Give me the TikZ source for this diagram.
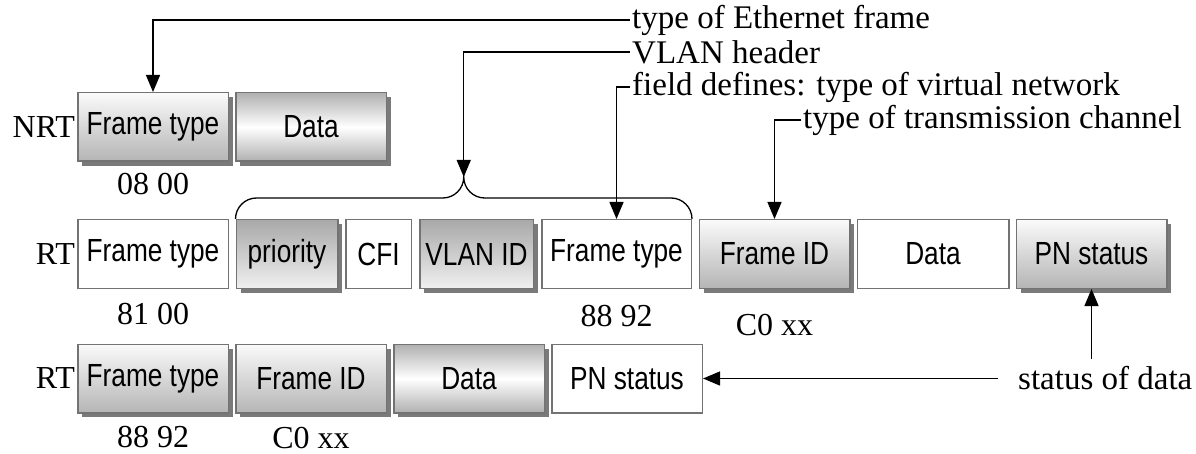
\documentclass[tikz,border=0pt]{standalone}
\usepackage{fontspec}
\setmainfont{Liberation Serif}
\newfontfamily\boxfont[FakeStretch=0.82]{Liberation Sans}
\usetikzlibrary{arrows.meta, calc, positioning, shadows}

\tikzset{
  field/.style={rectangle, draw=black!55, line width=1.5pt, minimum width=150.5pt, minimum height=68.5pt, inner sep=0pt, font=\boxfont\fontsize{32}{38}\selectfont},
  whitebox/.style={field, fill=white},
  boxshadow/.style={general shadow={shadow xshift=4.5pt, shadow yshift=-4.5pt, fill=black!52}},
  lighttop/.style={field, boxshadow, top color=gray!4, bottom color=gray!58},
  darktop/.style={field, boxshadow, top color=gray!68, bottom color=gray!12},
  band/.style={field, boxshadow, top color=gray!62, bottom color=gray!62, middle color=white},
  lbl/.style={font=\fontsize{32}{36}\selectfont, inner sep=0pt},
  note/.style={font=\fontsize{33}{38}\selectfont, inner sep=2pt, anchor=west},
  conn/.style={line width=1.3pt},
}

\begin{document}
\begin{tikzpicture}[x=1pt, y=1pt, >={Triangle[length=17pt, width=14pt]}]
\useasboundingbox (0,0) rectangle (1196,-454);

% NRT frame
\node[lighttop] (nrtft) at (153,-127) {Frame type};
\node[band, right=6pt of nrtft] (nrtdata) {Data};
\node[lbl, left=2pt of nrtft] (nrt) {NRT};
\node[lbl, below=11pt of nrtft] {08 00};

% RT frame with VLAN tag
\node[whitebox] (rtft) at (153,-254) {Frame type};
\node[darktop, right=6.5pt of rtft, minimum width=101.5pt] (prio) {priority};
\node[whitebox, right=6.5pt of prio, minimum width=65.5pt] (cfi) {CFI};
\node[darktop, right=7pt of cfi, minimum width=113.5pt] (vlanid) {VLAN ID};
\node[whitebox, right=7pt of vlanid, minimum width=149.5pt] (vlft) {Frame type};
\node[lighttop, right=6.5pt of vlft] (fid) {Frame ID};
\node[whitebox, right=6pt of fid, minimum width=151.5pt] (rtdata) {Data};
\node[lighttop, right=6pt of rtdata] (pn) {PN status};
\node[lbl, left=2pt of rtft] (rt) {RT};
\node[lbl, below=14pt of rtft] {81 00};
\node[lbl, below=16pt of vlft] {88 92};
\node[lbl, below=25pt of fid] {C0 xx};

% RT frame without VLAN tag
\node[lighttop] (rt2ft) at (153,-378.5) {Frame type};
\node[lighttop, right=6pt of rt2ft] (rt2fid) {Frame ID};
\node[band, right=6pt of rt2fid] (rt2data) {Data};
\node[whitebox, right=6pt of rt2data] (rt2pn) {PN status};
\node[lbl, left=2pt of rt2ft] (rt2) {RT};
\node[lbl, below=13pt of rt2ft] {88 92};
\node[lbl, below=14pt of rt2fid] {C0 xx};

% VLAN header brace
\coordinate (bracetip) at ($(prio.north west)!0.5!(vlft.north east)+(0,42)$);
\draw[conn] (prio.north west) arc[start angle=180, end angle=90, radius=21pt]
  -- ([xshift=-21pt, yshift=-21pt]bracetip) arc[start angle=270, end angle=360, radius=21pt]
  arc[start angle=180, end angle=270, radius=21pt]
  -- ([xshift=-21pt, yshift=21pt]vlft.north east) arc[start angle=90, end angle=0, radius=21pt];

% annotations
\node[note] (ethnote) at (630,-20) {type of Ethernet frame};
\node[note] (vlannote) at (630,-52) {VLAN header};
\node[note] (fieldnote) at (630,-87) {field defines: type of virtual network};
\node[note] (channote) at (801,-120) {type of transmission channel};
\node[note] (statnote) at (1016,-378.5) {status of data};

\draw[conn, ->] (ethnote.west) -| (nrtft.north);
\draw[conn, ->] (vlannote.west) -| (bracetip);
\draw[conn, ->] (fieldnote.west) -| (vlft.north);
\draw[conn, ->] (channote.west) -| (fid.north);
\draw[conn, ->] ([yshift=6pt]pn.south |- statnote.north) -- (pn.south);
\draw[conn, ->] ([xshift=-18pt]statnote.west) -- (rt2pn.east);
\end{tikzpicture}
\end{document}
